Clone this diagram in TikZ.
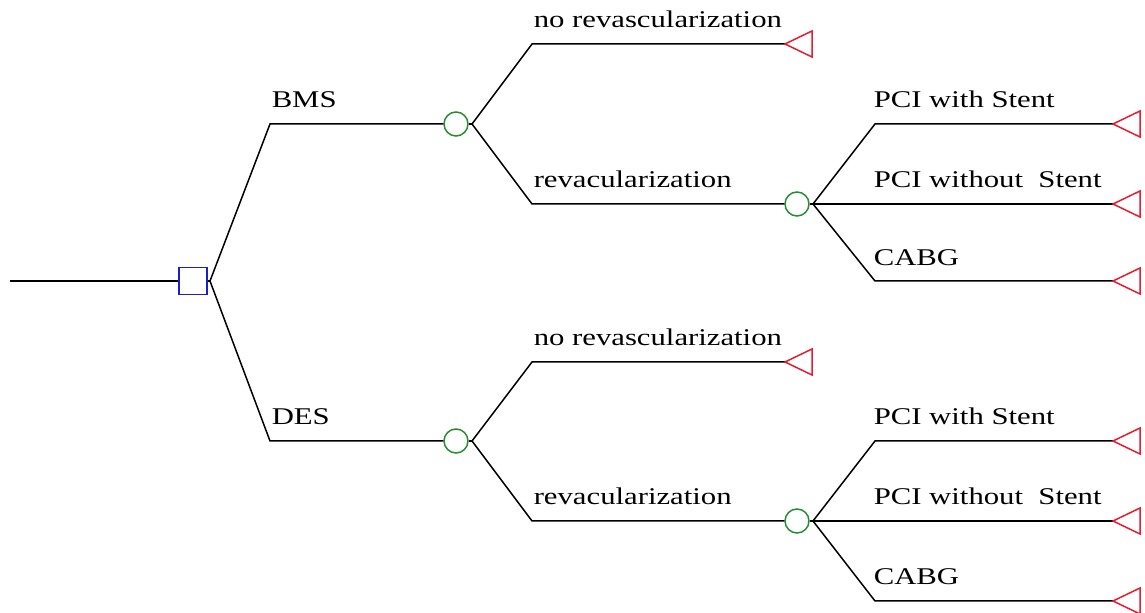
\documentclass[tikz,border=0pt]{standalone}
\usepackage{fontspec}
\setmainfont[FakeStretch=1.28]{Liberation Serif}
\definecolor{decblue}{RGB}{30,30,200}
\definecolor{chgreen}{RGB}{40,140,50}
\definecolor{termred}{RGB}{225,30,50}
\begin{document}
\begin{tikzpicture}[x=0.5pt,y=-0.5pt, line width=0.75pt,
  lbl/.style={anchor=base west, inner sep=0pt, font=\fontsize{12}{14}\selectfont},
  dec/.style={draw=decblue, rectangle, minimum width=14pt, minimum height=13.5pt, inner sep=0pt},
  chance/.style={draw=chgreen, circle, minimum size=12pt, inner sep=0pt},
  term/.style={draw=termred, line join=miter}]
\useasboundingbox (0,0) rectangle (1145,613);
\newcommand{\terminal}[1]{\draw[term] (#1) -- ++(27,-13) -- ++(0,26) -- cycle;}
% root and decision
\coordinate (root) at (10,281);
\node[dec] (D) at (193,281) {};
\draw (root) -- (D.west);
% first-level corners
\coordinate (bmsC) at (270,124);
\coordinate (desC) at (270,441);
\node[chance] (C1) at (456,124) {};
\node[chance] (C2) at (456,441) {};
\coordinate (D1) at (210,281);
\draw (D.east) -- (D1);
\draw (D1) -- (bmsC) -- (C1.west);
\draw (D1) -- (desC) -- (C2.west);
\node[lbl] (lBMS) at (271,108) {BMS};
\node[lbl] (lDES) at (271,425) {DES};
% ---- BMS subtree
\coordinate (C1r) at (472,124);
\coordinate (a1) at (532,44);
\coordinate (a1e) at (785,44);
\coordinate (a2) at (532,204);
\node[chance] (C3) at (797,204) {};
\draw (C1.east) -- (C1r);
\draw (C1r) -- (a1) -- (a1e);
\draw (C1r) -- (a2) -- (C3.west);
\terminal{a1e}
\node[lbl] (l1) at (533,28) {no revascularization};
\node[lbl] (l2) at (533,188) {revacularization};
\coordinate (C3r) at (813,204);
\coordinate (b1) at (875,124);
\coordinate (b1e) at (1113,124);
\coordinate (b2e) at (1113,204);
\coordinate (b3) at (875,281);
\coordinate (b3e) at (1113,281);
\draw (C3.east) -- (C3r);
\draw (C3r) -- (b1) -- (b1e);
\draw (C3r) -- (b2e);
\draw (C3r) -- (b3) -- (b3e);
\terminal{b1e}
\terminal{b2e}
\terminal{b3e}
\node[lbl] (l3) at (873,108) {PCI with Stent};
\node[lbl] (l4) at (873,188) {PCI without\ \ Stent};
\node[lbl] (l5) at (873,266) {CABG};
% ---- DES subtree
\coordinate (C2r) at (472,441);
\coordinate (c1) at (532,362);
\coordinate (c1e) at (785,362);
\coordinate (c2) at (532,521);
\node[chance] (C4) at (797,521) {};
\draw (C2.east) -- (C2r);
\draw (C2r) -- (c1) -- (c1e);
\draw (C2r) -- (c2) -- (C4.west);
\terminal{c1e}
\node[lbl] (l6) at (533,346) {no revascularization};
\node[lbl] (l7) at (533,505) {revacularization};
\coordinate (C4r) at (813,521);
\coordinate (d1) at (875,441);
\coordinate (d1e) at (1113,441);
\coordinate (d2e) at (1113,521);
\coordinate (d3) at (875,601);
\coordinate (d3e) at (1113,601);
\draw (C4.east) -- (C4r);
\draw (C4r) -- (d1) -- (d1e);
\draw (C4r) -- (d2e);
\draw (C4r) -- (d3) -- (d3e);
\terminal{d1e}
\terminal{d2e}
\terminal{d3e}
\node[lbl] (l8) at (873,425) {PCI with Stent};
\node[lbl] (l9) at (873,505) {PCI without\ \ Stent};
\node[lbl] (l10) at (873,585) {CABG};
\end{tikzpicture}
\end{document}
